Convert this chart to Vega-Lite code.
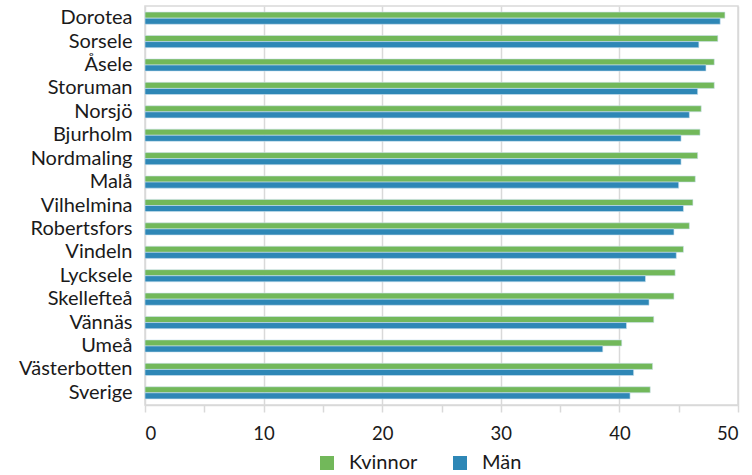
{
  "$schema": "https://vega.github.io/schema/vega-lite/v6.json",
  "autosize": "none",
  "padding": {"left": 145, "top": 6, "right": 14, "bottom": 70},
  "width": 593,
  "height": 399,
  "background": "white",
  "config": {
    "font": "Lato",
    "view": {"stroke": "#d9d9d9", "strokeWidth": 1.5}
  },
  "data": {
    "values": [
      {"kommun": "Dorotea", "kon": "Kvinnor", "v": 48.9},
      {"kommun": "Dorotea", "kon": "Män", "v": 48.5},
      {"kommun": "Sorsele", "kon": "Kvinnor", "v": 48.3},
      {"kommun": "Sorsele", "kon": "Män", "v": 46.7},
      {"kommun": "Åsele", "kon": "Kvinnor", "v": 48.0},
      {"kommun": "Åsele", "kon": "Män", "v": 47.3},
      {"kommun": "Storuman", "kon": "Kvinnor", "v": 48.0},
      {"kommun": "Storuman", "kon": "Män", "v": 46.6},
      {"kommun": "Norsjö", "kon": "Kvinnor", "v": 46.9},
      {"kommun": "Norsjö", "kon": "Män", "v": 45.9},
      {"kommun": "Bjurholm", "kon": "Kvinnor", "v": 46.8},
      {"kommun": "Bjurholm", "kon": "Män", "v": 45.2},
      {"kommun": "Nordmaling", "kon": "Kvinnor", "v": 46.6},
      {"kommun": "Nordmaling", "kon": "Män", "v": 45.2},
      {"kommun": "Malå", "kon": "Kvinnor", "v": 46.4},
      {"kommun": "Malå", "kon": "Män", "v": 45.0},
      {"kommun": "Vilhelmina", "kon": "Kvinnor", "v": 46.2},
      {"kommun": "Vilhelmina", "kon": "Män", "v": 45.4},
      {"kommun": "Robertsfors", "kon": "Kvinnor", "v": 45.9},
      {"kommun": "Robertsfors", "kon": "Män", "v": 44.6},
      {"kommun": "Vindeln", "kon": "Kvinnor", "v": 45.4},
      {"kommun": "Vindeln", "kon": "Män", "v": 44.8},
      {"kommun": "Lycksele", "kon": "Kvinnor", "v": 44.7},
      {"kommun": "Lycksele", "kon": "Män", "v": 42.2},
      {"kommun": "Skellefteå", "kon": "Kvinnor", "v": 44.6},
      {"kommun": "Skellefteå", "kon": "Män", "v": 42.5},
      {"kommun": "Vännäs", "kon": "Kvinnor", "v": 42.9},
      {"kommun": "Vännäs", "kon": "Män", "v": 40.6},
      {"kommun": "Umeå", "kon": "Kvinnor", "v": 40.2},
      {"kommun": "Umeå", "kon": "Män", "v": 38.6},
      {"kommun": "Västerbotten", "kon": "Kvinnor", "v": 42.8},
      {"kommun": "Västerbotten", "kon": "Män", "v": 41.2},
      {"kommun": "Sverige", "kon": "Kvinnor", "v": 42.6},
      {"kommun": "Sverige", "kon": "Män", "v": 40.9}
    ]
  },
  "mark": {"type": "bar", "stroke": "#cfe3f0", "strokeWidth": 0.6},
  "encoding": {
    "y": {
      "field": "kommun",
      "type": "nominal",
      "sort": null,
      "title": null,
      "scale": {"paddingInner": 0.48, "paddingOuter": 0.26},
      "axis": {
        "domain": false,
        "ticks": false,
        "labelFontSize": 20,
        "labelColor": "#1a1a1a",
        "labelPadding": 13
      }
    },
    "yOffset": {
      "field": "kon",
      "type": "nominal",
      "sort": ["Kvinnor", "Män"],
      "scale": {"paddingInner": 0, "paddingOuter": 0}
    },
    "x": {
      "field": "v",
      "type": "quantitative",
      "title": null,
      "scale": {"domain": [0, 50], "nice": false},
      "axis": {
        "values": [0, 5, 10, 15, 20, 25, 30, 35, 40, 45, 50],
        "labelExpr": "datum.value % 10 === 0 ? datum.label : ''",
        "gridOpacity": {"condition": {"test": "datum.value % 10 === 0", "value": 1}, "value": 0},
        "gridColor": "#d9d9d9",
        "gridWidth": 1.5,
        "domainColor": "#d9d9d9",
        "domainWidth": 1.5,
        "tickColor": "#d9d9d9",
        "tickWidth": 1.5,
        "tickSize": 7,
        "labelFontSize": 18.5,
        "labelColor": "#1a1a1a",
        "labelPadding": 12
      }
    },
    "color": {
      "field": "kon",
      "type": "nominal",
      "scale": {"domain": ["Kvinnor", "Män"], "range": ["#72b85a", "#2e87b6"]},
      "legend": {
        "title": null,
        "orient": "none",
        "direction": "horizontal",
        "legendX": 172,
        "legendY": 447,
        "symbolType": "square",
        "symbolSize": 196,
        "symbolStrokeWidth": 0,
        "labelFontSize": 20,
        "labelColor": "#1a1a1a",
        "columnPadding": 32,
        "labelOffset": 12
      }
    }
  }
}
